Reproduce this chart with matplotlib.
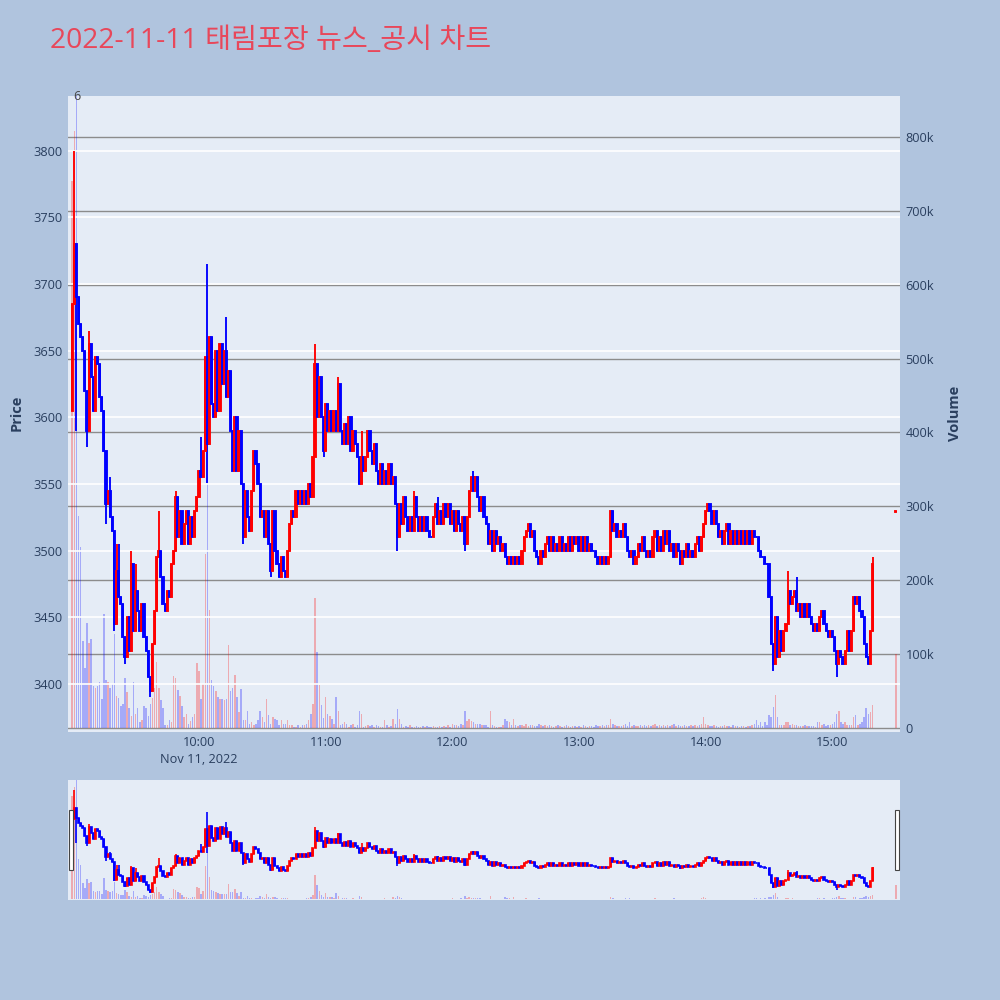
import numpy as np
import matplotlib.pyplot as plt
from matplotlib.patches import Rectangle

plt.rcParams['font.family'] = ['Open Sans', 'Noto Sans CJK KR', 'DejaVu Sans']

TITLE = "2022-11-11 태림포장 뉴스_공시 차트"
NEWS_COUNT = "6"

# 1분봉 종가 (09:00 ~ 15:19), 첫 시가는 따로
FIRST_OPEN = 3605
CLOSE = [
    3685, 3730, 3690, 3670, 3660, 3650, 3620, 3590, 3655, 3630,
    3605, 3645, 3640, 3615, 3605, 3575, 3535, 3545, 3525, 3515,
    3445, 3485, 3465, 3460, 3435, 3420, 3450, 3425, 3490, 3440,
    3470, 3455, 3440, 3460, 3435, 3425, 3405, 3395, 3430, 3455,
    3495, 3500, 3480, 3460, 3455, 3470, 3465, 3490, 3500, 3540,
    3510, 3530, 3505, 3520, 3530, 3505, 3525, 3510, 3530, 3540,
    3560, 3555, 3575, 3645, 3580, 3660, 3610, 3600, 3650, 3605,
    3655, 3625, 3650, 3615, 3635, 3590, 3560, 3600, 3560, 3590,
    3550, 3510, 3545, 3525, 3515, 3545, 3575, 3565, 3550, 3525,
    3530, 3510, 3530, 3505, 3485, 3530, 3500, 3490, 3480, 3495,
    3485, 3480, 3500, 3520, 3530, 3525, 3545, 3535, 3545, 3535,
    3545, 3535, 3550, 3540, 3570, 3640, 3600, 3630, 3600, 3575,
    3610, 3590, 3605, 3590, 3605, 3590, 3625, 3590, 3580, 3595,
    3580, 3600, 3575, 3590, 3580, 3570, 3550, 3570, 3560, 3570,
    3590, 3575, 3565, 3580, 3560, 3550, 3565, 3550, 3560, 3550,
    3565, 3550, 3555, 3535, 3510, 3535, 3520, 3540, 3525, 3515,
    3525, 3515, 3540, 3525, 3515, 3525, 3515, 3525, 3515, 3510,
    3510, 3525, 3535, 3520, 3530, 3520, 3535, 3525, 3535, 3520,
    3530, 3515, 3530, 3520, 3515, 3525, 3505, 3525, 3545, 3555,
    3545, 3555, 3540, 3530, 3540, 3525, 3520, 3505, 3515, 3500,
    3515, 3505, 3510, 3500, 3505, 3495, 3490, 3495, 3490, 3495,
    3490, 3495, 3490, 3500, 3510, 3515, 3520, 3510, 3515, 3500,
    3495, 3490, 3500, 3495, 3505, 3510, 3500, 3510, 3500, 3505,
    3500, 3510, 3500, 3505, 3500, 3510, 3500, 3510, 3505, 3510,
    3500, 3510, 3500, 3510, 3500, 3505, 3500, 3500, 3495, 3490,
    3495, 3490, 3495, 3490, 3495, 3530, 3515, 3520, 3510, 3515,
    3510, 3520, 3510, 3500, 3495, 3500, 3490, 3495, 3505, 3500,
    3510, 3500, 3495, 3500, 3495, 3510, 3515, 3500, 3510, 3500,
    3515, 3505, 3515, 3500, 3505, 3495, 3505, 3500, 3490, 3500,
    3495, 3505, 3495, 3500, 3495, 3505, 3510, 3500, 3510, 3520,
    3530, 3535, 3530, 3520, 3530, 3520, 3510, 3515, 3505, 3515,
    3520, 3505, 3515, 3505, 3515, 3505, 3515, 3505, 3515, 3505,
    3515, 3505, 3515, 3510, 3510, 3500, 3495, 3495, 3490, 3490,
    3465, 3430, 3415, 3450, 3420, 3440, 3425, 3440, 3445, 3470,
    3460, 3465, 3470, 3455, 3460, 3450, 3460, 3450, 3460, 3450,
    3445, 3440, 3445, 3440, 3450, 3455, 3445, 3440, 3435, 3440,
    3435, 3425, 3415, 3425, 3420, 3415, 3425, 3440, 3425, 3440,
    3465, 3460, 3465, 3455, 3450, 3430, 3420, 3415, 3440, 3490,
]

# 몸통 밖으로 나간 꼬리 (분 인덱스: 가격)
HIGH_WICK = {1: 3800, 8: 3665, 18: 3555, 21: 3505, 22: 3505, 28: 3500, 30: 3490,
             41: 3530, 49: 3545, 61: 3585, 64: 3715, 73: 3675, 86: 3575, 115: 3655,
             126: 3630, 137: 3590, 162: 3545, 173: 3540, 190: 3560, 255: 3530,
             301: 3535, 339: 3485, 343: 3480, 379: 3495}
LOW_WICK = {2: 3590, 7: 3578, 16: 3520, 20: 3440, 25: 3415, 37: 3390, 64: 3551,
            81: 3505, 94: 3480, 119: 3570, 154: 3500, 186: 3500, 288: 3489,
            332: 3410, 362: 3405}

# 거래량 (천 주)
VOLUME_K = [
    740, 807, 900, 287, 245, 118, 82, 143, 115, 121,
    57, 55, 57, 63, 40, 154, 65, 63, 55, 60,
    127, 44, 41, 30, 33, 68, 49, 27, 16, 63,
    19, 27, 8, 11, 30, 27, 16, 33, 41, 55,
    90, 55, 38, 27, 5, 5, 11, 8, 71, 68,
    52, 44, 30, 15, 19, 6, 10, 15, 20, 88,
    78, 40, 60, 236, 340, 160, 65, 57, 51, 42,
    40, 40, 38, 40, 112, 51, 54, 72, 42, 22,
    53, 11, 11, 24, 6, 9, 4, 6, 11, 24,
    15, 9, 40, 18, 6, 15, 13, 11, 4, 11,
    6, 6, 11, 4, 4, 2, 2, 4, 2, 4,
    4, 6, 11, 20, 33, 176, 103, 58, 31, 14,
    42, 20, 16, 13, 6, 42, 24, 4, 6, 9,
    6, 2, 4, 6, 2, 4, 24, 20, 2, 3,
    4, 3, 4, 2, 4, 3, 2, 2, 11, 4,
    2, 3, 13, 6, 26, 13, 6, 2, 3, 2,
    4, 2, 2, 3, 2, 2, 3, 2, 3, 2,
    2, 3, 2, 2, 3, 2, 3, 2, 4, 2,
    6, 4, 4, 3, 6, 4, 24, 10, 13, 10,
    8, 6, 6, 6, 4, 4, 4, 2, 24, 4,
    3, 2, 2, 2, 4, 13, 10, 8, 4, 13,
    4, 3, 5, 4, 3, 6, 3, 4, 5, 3,
    3, 6, 4, 3, 5, 3, 4, 3, 2, 3,
    4, 3, 2, 3, 4, 3, 2, 3, 3, 2,
    3, 2, 4, 3, 2, 3, 3, 2, 4, 3,
    3, 4, 3, 5, 4, 13, 6, 4, 3, 3,
    3, 4, 6, 3, 8, 3, 4, 3, 3, 4,
    3, 4, 3, 5, 3, 4, 6, 3, 4, 3,
    4, 3, 5, 3, 4, 6, 3, 4, 3, 3,
    4, 3, 3, 5, 3, 4, 3, 4, 6, 15,
    6, 4, 3, 3, 4, 3, 2, 3, 3, 4,
    3, 3, 2, 4, 3, 3, 2, 3, 3, 2,
    3, 3, 4, 6, 11, 4, 8, 3, 8, 4,
    18, 15, 29, 45, 15, 4, 5, 4, 8, 8,
    4, 6, 4, 4, 3, 3, 3, 4, 3, 3,
    3, 3, 2, 8, 8, 4, 6, 3, 4, 4,
    6, 8, 20, 24, 8, 6, 8, 4, 5, 4,
    15, 18, 4, 6, 8, 15, 27, 20, 22, 32,
]

# 15:30 동시호가
AUCTION_MINUTE = 390
AUCTION_OPEN, AUCTION_CLOSE = 3529, 3530
AUCTION_VOLUME_K = 100

PRICE_TICKS = [3400, 3450, 3500, 3550, 3600, 3650, 3700, 3750, 3800]
VOL_TICKS = [0, 100, 200, 300, 400, 500, 600, 700, 800]
VOL_LABELS = ["0", "100k", "200k", "300k", "400k", "500k", "600k", "700k", "800k"]
HOUR_MINUTES = [60, 120, 180, 240, 300, 360]
HOUR_LABELS = ["10:00\nNov 11, 2022", "11:00", "12:00", "13:00", "14:00", "15:00"]

PAPER = "#b0c4de"
PLOT_BG = "#e5ecf6"
FG = "#2a3f5f"
UP, DOWN = "#ff0000", "#0000ff"
PRICE_LIM = (3364, 3841)
VOL_LIM = (-5, 855)
X_LIM = (-2, 392)

# ---- 데이터 정리 ----
close = np.array(CLOSE + [AUCTION_CLOSE], dtype=float)
opens = np.array([FIRST_OPEN] + CLOSE[:-1] + [AUCTION_OPEN], dtype=float)
minutes = np.r_[np.arange(len(CLOSE)), AUCTION_MINUTE]
high = np.maximum(opens, close)
low = np.minimum(opens, close)
for m, v in HIGH_WICK.items():
    high[m] = v
for m, v in LOW_WICK.items():
    low[m] = v
volume = np.array(VOLUME_K + [AUCTION_VOLUME_K], dtype=float)
colors = np.where(close > opens, UP, DOWN)


def draw_candles(ax, lw, body_w):
    ax.vlines(minutes, low, high, colors=colors, lw=lw, zorder=3)
    ax.bar(minutes, np.abs(close - opens), bottom=np.minimum(opens, close),
           width=body_w, color=colors, edgecolor=colors, lw=lw, zorder=3)


def draw_volume(ax):
    ax.bar(minutes, volume, width=0.7, color=colors, alpha=0.28, lw=0, zorder=2)


fig = plt.figure(figsize=(10, 10), dpi=100)
fig.patch.set_facecolor(PAPER)

# ---- 메인 차트 ----
ax_v = fig.add_axes([0.068, 0.268, 0.832, 0.636])
ax_p = ax_v.twinx()
ax_v.set_facecolor(PLOT_BG)
ax_p.patch.set_visible(False)

draw_volume(ax_v)
draw_candles(ax_p, 1.35, 0.55)

ax_v.set_xlim(*X_LIM)
ax_v.set_ylim(*VOL_LIM)
ax_p.set_ylim(*PRICE_LIM)

ax_v.set_yticks(VOL_TICKS, VOL_LABELS)
ax_v.yaxis.tick_right()
ax_v.grid(axis="y", color="#8c8c8c", lw=1.0)
ax_v.set_axisbelow(True)
ax_p.set_yticks(PRICE_TICKS)
ax_p.yaxis.tick_left()
ax_p.grid(axis="y", color="white", lw=1.2)
ax_p.set_axisbelow(True)

ax_v.set_xticks(HOUR_MINUTES, HOUR_LABELS)
for a in (ax_v, ax_p):
    for s in a.spines.values():
        s.set_visible(False)
    a.tick_params(length=0, labelsize=9.2, labelcolor=FG, pad=4)
ax_v.tick_params(axis="x", pad=3)
for lab in ax_v.get_xticklabels():
    lab.set_linespacing(1.4)

ax_p.text(2, PRICE_LIM[1], NEWS_COUNT, ha="center", va="center",
          fontsize=9, color="#444444", clip_on=False, zorder=5)

fig.text(0.010, 0.587, "Price", rotation=90, ha="left", va="center",
         fontsize=10.5, fontweight="bold", color=FG)
fig.text(0.948, 0.587, "Volume", rotation=90, ha="left", va="center",
         fontsize=10.5, fontweight="bold", color=FG)
fig.text(0.05, 0.959, TITLE, ha="left", va="center", fontsize=20.3, color="#e8475a")

# ---- 레인지 슬라이더 ----
ax_sv = fig.add_axes([0.068, 0.100, 0.832, 0.120])
ax_s = ax_sv.twinx()
ax_sv.set_facecolor(PLOT_BG)
ax_s.patch.set_visible(False)
draw_volume(ax_sv)
draw_candles(ax_s, 1.2, 0.5)
ax_sv.set_xlim(*X_LIM)
ax_sv.set_ylim(*VOL_LIM)
ax_s.set_ylim(*PRICE_LIM)
for a in (ax_sv, ax_s):
    a.set_xticks([])
    a.set_yticks([])
    for s in a.spines.values():
        s.set_visible(False)

for hx in (0.069, 0.895):
    fig.add_artist(Rectangle((hx, 0.130), 0.004, 0.060, transform=fig.transFigure,
                             facecolor="white", edgecolor="#444444", lw=0.8))

fig.savefig("out.png", dpi=100, facecolor=PAPER)
